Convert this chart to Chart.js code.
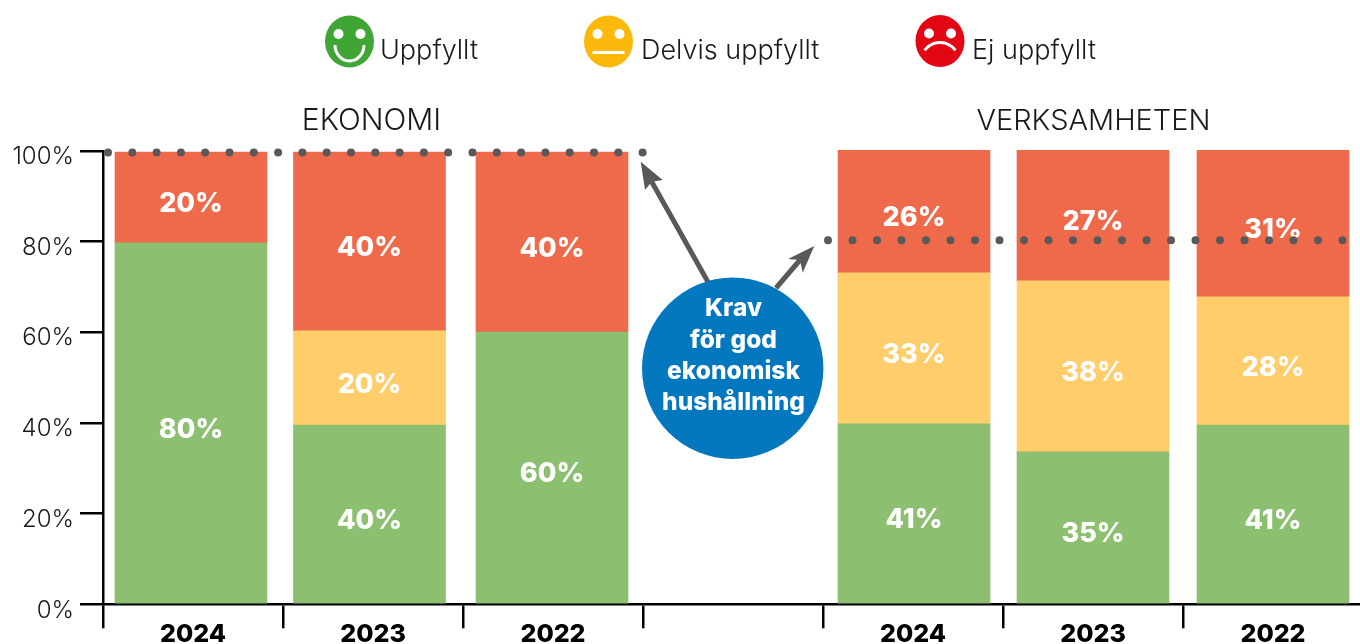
<!DOCTYPE html>
<html lang="sv">
<head>
<meta charset="utf-8">
<title>Krav för god ekonomisk hushållning</title>
<script src="https://cdn.jsdelivr.net/npm/chart.js@4/dist/chart.umd.min.js"></script>
<style>
  html, body { margin: 0; padding: 0; background: #fff; overflow: hidden; }
  #wrap { width: 1360px; height: 644px; overflow: hidden; }
  canvas { display: block; }
</style>
</head>
<body>
<div id="wrap"><canvas id="kravChart" width="1380" height="664" style="width:1380px;height:664px"></canvas></div>
<script>
const categories = ["2024", "2023", "2022", "", "2024", "2023", "2022"];
const yTicks = [0, 20, 40, 60, 80, 100];

// segment heights as drawn in the picture
const greenValues = [79.7, 39.5, 60, null, 39.8, 33.6, 39.5];
const yellowValues = [null, 20.8, null, null, 33.3, 37.7, 28.3];
const redValues = [20, 39.4, 39.7, null, 27, 28.8, 32.3];

// the percentages printed on the bars
const greenLabels = ["80%", "40%", "60%", "", "41%", "35%", "41%"];
const yellowLabels = ["", "20%", "", "", "33%", "38%", "28%"];
const redLabels = ["20%", "40%", "40%", "", "26%", "27%", "31%"];

const kravEkonomi = 99.6;
const kravVerksamhet = 80.3;

const legendItems = ["Uppfyllt", "Delvis uppfyllt", "Ej uppfyllt"];
const bubbleLines = ["Krav", "för god", "ekonomisk", "hushållning"];

const lightFont = (size) => "300 " + size + "px Inter";
const boldFont = (size) => "800 " + size + "px Inter";

function dots(ctx, x0, x1, y, gap) {
  ctx.save();
  ctx.strokeStyle = "#595959";
  ctx.lineWidth = 8;
  ctx.lineCap = "round";
  ctx.setLineDash([0, gap]);
  ctx.beginPath();
  ctx.moveTo(x0, y);
  ctx.lineTo(x1, y);
  ctx.stroke();
  ctx.restore();
}

function arrow(ctx, from, notch, wingA, tip, wingB) {
  ctx.strokeStyle = "#595959";
  ctx.fillStyle = "#595959";
  ctx.lineWidth = 5;
  ctx.beginPath();
  ctx.moveTo(from[0], from[1]);
  ctx.lineTo(notch[0], notch[1]);
  ctx.stroke();
  ctx.beginPath();
  ctx.moveTo(tip[0], tip[1]);
  ctx.lineTo(wingA[0], wingA[1]);
  ctx.lineTo(notch[0], notch[1]);
  ctx.lineTo(wingB[0], wingB[1]);
  ctx.closePath();
  ctx.fill();
}

function face(ctx, x, y, color, mood) {
  ctx.fillStyle = color;
  ctx.beginPath();
  ctx.ellipse(x, y, 24.5, 26, 0, 0, Math.PI * 2);
  ctx.fill();
  ctx.fillStyle = "#fff";
  [-11, 11].forEach((dx) => {
    ctx.beginPath();
    ctx.arc(x + dx, y - 7.5, 5, 0, Math.PI * 2);
    ctx.fill();
  });
  ctx.strokeStyle = "#fff";
  ctx.lineWidth = 3;
  ctx.beginPath();
  if (mood === "happy") ctx.ellipse(x, y + 3.5, 14.5, 16, 0, 0, Math.PI);
  if (mood === "neutral") {
    ctx.moveTo(x - 16, y + 11);
    ctx.lineTo(x + 16, y + 11);
  }
  if (mood === "sad") ctx.arc(x, y + 20.5, 19, 1.2 * Math.PI, 1.8 * Math.PI);
  ctx.stroke();
}

// small shift of each column, the original columns are not evenly spaced
const barShift = [-2, -3.5, -1, 0, 1, 0, 0];

const shiftBars = {
  id: "shiftBars",
  afterDatasetsUpdate(chart) {
    chart.data.datasets.forEach((ds, d) => {
      chart.getDatasetMeta(d).data.forEach((bar, i) => {
        bar.x += barShift[i];
      });
    });
  },
};

// labels on the segments
const segmentLabels = {
  id: "segmentLabels",
  afterDatasetsDraw(chart) {
    const ctx = chart.ctx;
    const texts = [greenLabels, yellowLabels, redLabels];
    ctx.save();
    ctx.font = boldFont(27);
    ctx.fillStyle = "#fff";
    ctx.textAlign = "center";
    ctx.textBaseline = "middle";
    texts.forEach((labels, d) => {
      chart.getDatasetMeta(d).data.forEach((bar, i) => {
        if (!labels[i]) return;
        const p = bar.getCenterPoint();
        ctx.fillText(labels[i], p.x, p.y + 6.5);
      });
    });
    ctx.restore();
  },
};

// legend, titles, requirement lines and the bubble
const annotations = {
  id: "annotations",
  afterDraw(chart) {
    const ctx = chart.ctx;
    const y = chart.scales.y;
    ctx.save();

    face(ctx, 349.5, 41.5, "#3FA535", "happy");
    face(ctx, 608.5, 41.5, "#FDB90B", "neutral");
    face(ctx, 940, 41, "#E30613", "sad");

    ctx.fillStyle = "#1a1a1a";
    ctx.textBaseline = "alphabetic";
    ctx.textAlign = "left";
    ctx.font = lightFont(27);
    ctx.fillText(legendItems[0], 380, 59);
    ctx.fillText(legendItems[1], 641, 59);
    ctx.fillText(legendItems[2], 972, 59);

    ctx.textAlign = "center";
    ctx.font = lightFont(30);
    ctx.fillText("EKONOMI", 371.5, 130);
    ctx.font = lightFont(29);
    ctx.fillText("VERKSAMHETEN", 1093.5, 130);

    dots(ctx, 108, 648, y.getPixelForValue(kravEkonomi), 24.3);
    dots(ctx, 828, 1372, y.getPixelForValue(kravVerksamhet), 24.5);

    arrow(ctx, [708, 282], [651.7, 181.7], [662.7, 180], [640.7, 161.7], [645, 190]);
    arrow(ctx, [776, 288], [800, 260], [788, 259], [814.3, 246], [802.7, 272.7]);

    ctx.fillStyle = "#0478BF";
    ctx.beginPath();
    ctx.arc(732.7, 368.3, 90.7, 0, Math.PI * 2);
    ctx.fill();

    ctx.fillStyle = "#fff";
    ctx.font = boldFont(24.5);
    ctx.textBaseline = "middle";
    const lineY = [309, 341, 372, 403];
    bubbleLines.forEach((line, i) => ctx.fillText(line, 733.5, lineY[i]));
    ctx.restore();
  },
};

document.addEventListener("DOMContentLoaded", () => {
  const ctx = document.getElementById("kravChart").getContext("2d");

  new Chart(ctx, {
    type: "bar",
    data: {
      labels: categories,
      datasets: [
        { label: "Uppfyllt", data: greenValues, backgroundColor: "#8CBF70" },
        { label: "Delvis uppfyllt", data: yellowValues, backgroundColor: "#FFCD69" },
        { label: "Ej uppfyllt", data: redValues, backgroundColor: "#EE6A4B" },
      ],
    },
    plugins: [shiftBars, segmentLabels, annotations],
    options: {
      responsive: false,
      animation: false,
      layout: { padding: { top: 150.8, right: 17, left: 0, bottom: 0 } },
      datasets: { bar: { barThickness: 152, clip: false } },
      plugins: { legend: { display: false }, tooltip: { enabled: false } },
      scales: {
        x: {
          stacked: true,
          afterFit: (scale) => { scale.height = 664 - 604.3; },
          grid: { drawOnChartArea: false, color: "#000", lineWidth: 2.5, tickLength: 24 },
          border: { color: "#000", width: 2.5 },
          ticks: {
            color: "#000",
            font: { family: "Inter", size: 25, weight: 800 },
            padding: -9,
            maxRotation: 0,
          },
        },
        y: {
          stacked: true,
          min: 0,
          max: 100,
          afterFit: (scale) => { scale.width = 103; },
          afterBuildTicks: (scale) => { scale.ticks = yTicks.map((value) => ({ value })); },
          grid: { drawOnChartArea: false, color: "#000", lineWidth: 2.5, tickLength: 23 },
          border: { color: "#000", width: 2.5 },
          ticks: {
            color: "#1a1a1a",
            font: { family: "Inter", size: 24, weight: 300 },
            padding: 6,
            labelOffset: 6,
            callback: (value) => value + "%",
          },
        },
      },
    },
  });
});
</script>
</body>
</html>
